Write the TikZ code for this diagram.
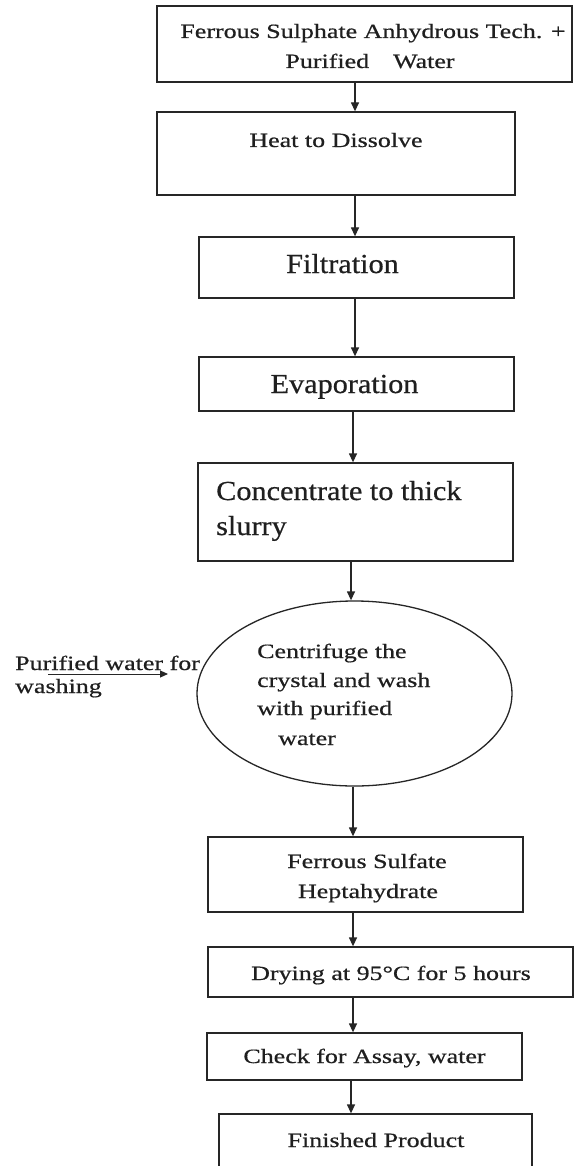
\documentclass[tikz,border=0pt]{standalone}
\usepackage{fontspec}
\usetikzlibrary{arrows.meta,shapes.geometric}
\newfontfamily\fontA[FakeStretch=1.28,FakeBold=0.6]{Liberation Serif}
\newfontfamily\fontB[FakeStretch=1.1,FakeBold=0.6]{Liberation Serif}
\newcommand\txtS{\fontA\fontsize{20.3}{24}\selectfont}
\newcommand\txtL{\fontB\fontsize{27.5}{33}\selectfont}
\begin{document}
\begin{tikzpicture}[x=1pt,y=-1pt,
  box/.style={draw=black!85, line width=1.3pt, rectangle, inner sep=0pt},
  lbl/.style={anchor=base, text=black!88, inner sep=0pt, font=\txtS},
  lblw/.style={anchor=base west, text=black!88, inner sep=0pt, font=\txtS},
  lblL/.style={anchor=base, text=black!88, inner sep=0pt, font=\txtL},
  lblLw/.style={anchor=base west, text=black!88, inner sep=0pt, font=\txtL},
  arr/.style={draw=black!85, line width=1.3pt, -{Triangle[length=9pt,width=8pt]}},
  arrthin/.style={draw=black!85, line width=1pt, -{Triangle[length=8pt,width=7pt]}}]
\useasboundingbox (0,0) rectangle (582,1166);
\clip (0,0) rectangle (582,1166);
\fill[white] (0,0) rectangle (582,1166);

% boxes
\node[box, minimum width=415pt, minimum height=76pt] (b1) at (364.5,44) {};
\node[box, minimum width=358pt, minimum height=83pt] (b2) at (336,153.5) {};
\node[box, minimum width=315pt, minimum height=61pt] (b3) at (356.5,267.5) {};
\node[box, minimum width=315pt, minimum height=54pt] (b4) at (356.5,384) {};
\node[box, minimum width=315pt, minimum height=98pt] (b5) at (355.5,512) {};
\node[draw=black!85, line width=1.3pt, ellipse, inner sep=0pt, minimum width=315pt, minimum height=185pt] (cent) at (354.5,693.5) {};
\node[box, minimum width=315pt, minimum height=75pt] (b7) at (365.5,874.5) {};
\node[box, minimum width=365pt, minimum height=50pt] (b8) at (390.5,972) {};
\node[box, minimum width=315pt, minimum height=47pt] (b9) at (364.5,1056.5) {};
\node[box, minimum width=313pt, minimum height=76pt] (b10) at (375.5,1152) {};

% texts
\node[lbl] (t1a) at (373,38) {Ferrous Sulphate Anhydrous Tech. +};
\node[lbl] (t1b) at (370,68) {Purified\hspace{24pt}Water};
\node[lbl] (t2) at (336,147) {Heat to Dissolve};
\node[lblL] (t3) at (342.5,273) {Filtration};
\node[lblL] (t4) at (344.5,393) {Evaporation};
\node[lblLw] (t5a) at (216,500) {Concentrate to thick};
\node[lblLw] (t5b) at (216,535) {slurry};
\node[lblw] (t6a) at (257,658) {Centrifuge the};
\node[lblw] (t6b) at (257,687) {crystal and wash};
\node[lblw] (t6c) at (257,715) {with purified};
\node[lblw] (t6d) at (278,745) {water};
\node[lblw] (w1) at (15,670) {Purified water for};
\node[lblw] (w2) at (15,693) {washing};
\node[lbl] (t7a) at (367,868) {Ferrous Sulfate};
\node[lbl] (t7b) at (368,898) {Heptahydrate};
\node[lbl] (t8) at (391,980) {Drying at 95°C for 5 hours};
\node[lbl] (t9) at (364.5,1063) {Check for Assay, water};
\node[lbl] (t10) at (376,1147) {Finished Product};

% connectors
\coordinate (xa) at (355,0);
\coordinate (xb) at (353,0);
\coordinate (xc) at (351,0);
\draw[arr] (xa |- b1.south) -- (xa |- b2.north);
\draw[arr] (xa |- b2.south) -- (xa |- b3.north);
\draw[arr] (xa |- b3.south) -- (xa |- b4.north);
\draw[arr] (xb |- b4.south) -- (xb |- b5.north);
\draw[arr] (xc |- b5.south) -- (xc |- cent.north);
\draw[arr] (xb |- cent.south) -- (xb |- b7.north);
\draw[arr] (xb |- b7.south) -- (xb |- b8.north);
\draw[arr] (xb |- b8.south) -- (xb |- b9.north);
\draw[arr] (xc |- b9.south) -- (xc |- b10.north);
\coordinate (ws) at (48,674);
\coordinate (we) at (168,674);
\draw[arrthin] (ws) -- (we);
\end{tikzpicture}
\end{document}
